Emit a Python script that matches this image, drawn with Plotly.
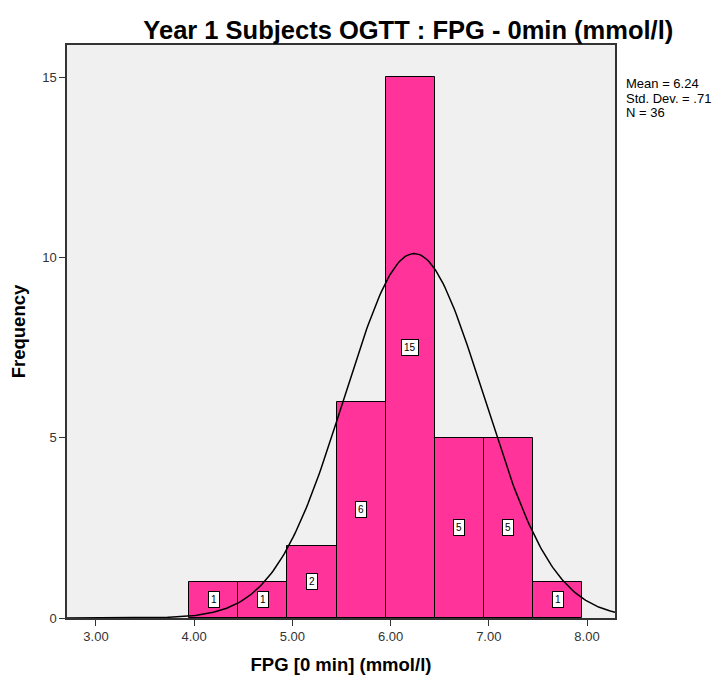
import math
import plotly.graph_objects as go

# Data
bin_centers = [4.2, 4.7, 5.2, 5.7, 6.2, 6.7, 7.2, 7.7]
counts = [1, 1, 2, 6, 15, 5, 5, 1]
bin_width = 0.5
mean_val = 6.24
sd_val = 0.71
n_val = 36
x_ticks = [3, 4, 5, 6, 7, 8]
y_ticks = [0, 5, 10, 15]
x_range = [2.705, 8.285]
y_range = [0, 15.9]
stats_lines = [f"Mean = {mean_val:.2f}", f"Std. Dev. = .{int(round(sd_val*100))}", f"N = {n_val}"]

NARROW = "Liberation Sans Narrow, Arial Narrow, Liberation Sans, Arial, sans-serif"
SANS = "Liberation Sans, Arial, sans-serif"

fig = go.Figure()
fig.add_trace(go.Bar(
    x=bin_centers, y=counts, width=[bin_width] * len(counts),
    marker=dict(color="#ff3399", line=dict(color="#000000", width=1)),
    hoverinfo="x+y", showlegend=False,
))

# Normal curve overlay from the displayed statistics
steps = 300
cx = [x_range[0] + (x_range[1] - x_range[0]) * i / steps for i in range(steps + 1)]
peak = n_val * bin_width / (sd_val * math.sqrt(2 * math.pi))
cy = [peak * math.exp(-0.5 * ((v - mean_val) / sd_val) ** 2) for v in cx]
fig.add_trace(go.Scatter(x=cx, y=cy, mode="lines",
                         line=dict(color="#000000", width=1.5),
                         hoverinfo="skip", showlegend=False))

for xc, c in zip(bin_centers, counts):
    fig.add_annotation(x=xc, y=c / 2, text=str(c), showarrow=False,
                       font=dict(family=SANS, size=10, color="#000000"),
                       bgcolor="#ffffff", bordercolor="#000000", borderwidth=1,
                       borderpad=2)

for i, line in enumerate(stats_lines):
    fig.add_annotation(xref="paper", yref="paper", x=1.016, y=0.932 - i * 0.0245,
                       xanchor="left", yanchor="middle", align="left", showarrow=False,
                       text=line, font=dict(family=NARROW, size=13, color="#000000"))

fig.update_layout(
    width=720, height=675,
    paper_bgcolor="#ffffff", plot_bgcolor="#f0f0f0",
    margin=dict(l=59, r=113, t=37, b=65, autoexpand=False),
    bargap=0,
    title=dict(text="<b>Year 1 Subjects OGTT : FPG - 0min (mmol/l)</b>",
               x=0.556, xanchor="center", y=1 - 22 / 675, yanchor="middle",
               font=dict(family=NARROW, size=25.5, color="#000000")),
    xaxis=dict(range=x_range, tickvals=x_ticks, ticktext=[f"{v:.2f}" for v in x_ticks],
               ticks="outside", ticklen=6, tickcolor="#333333", showgrid=False, zeroline=False,
               showline=True, linecolor="#333333", linewidth=1.5, mirror=True, automargin=False,
               tickfont=dict(family=SANS, size=13, color="#333333"),
               title=dict(text="<b>FPG [0 min] (mmol/l)</b>", standoff=15,
                          font=dict(family=SANS, size=18.5, color="#000000"))),
    yaxis=dict(range=y_range, tickvals=y_ticks, ticks="outside", ticklen=6, tickcolor="#333333",
               showgrid=False, zeroline=False, showline=True, linecolor="#333333", linewidth=1.5,
               mirror=True, automargin=False, tickfont=dict(family=SANS, size=13, color="#333333"),
               title=dict(text="<b>Frequency</b>", standoff=18,
                          font=dict(family=SANS, size=18.5, color="#000000"))),
)

fig.write_html("out.html")
